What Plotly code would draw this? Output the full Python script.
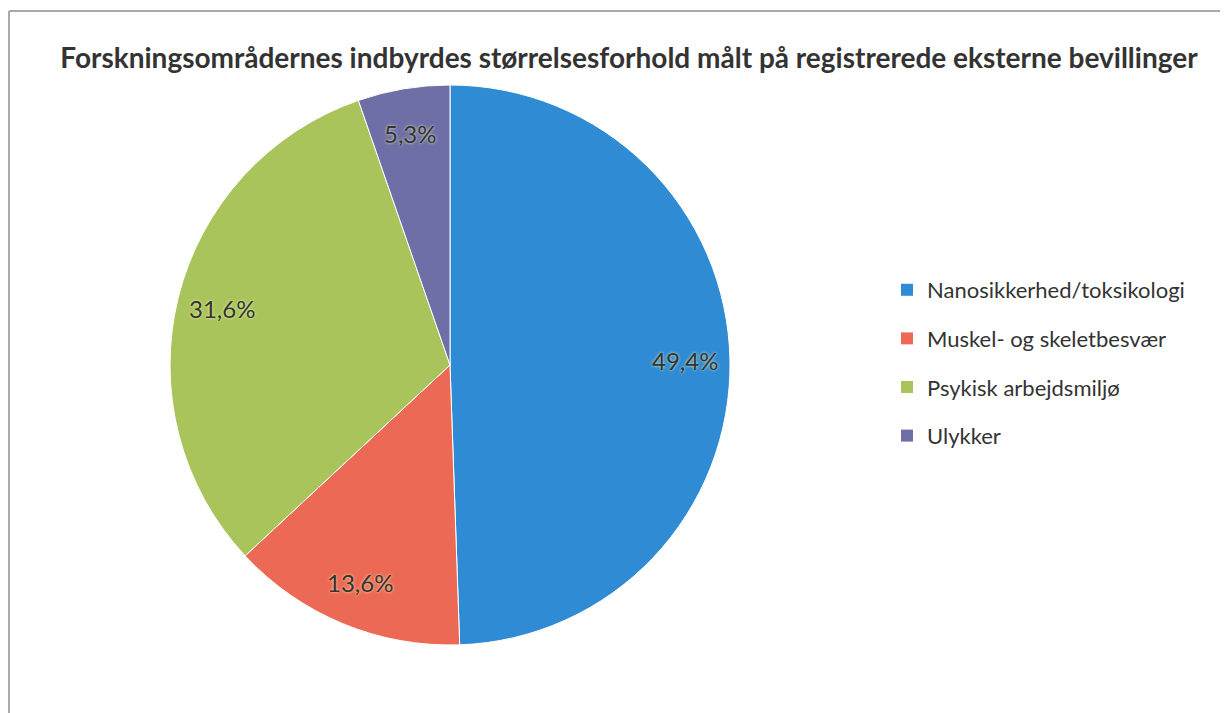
import math
import plotly.graph_objects as go

categories = ["Nanosikkerhed/toksikologi", "Muskel- og skeletbesvær", "Psykisk arbejdsmiljø", "Ulykker"]
values = [49.4, 13.6, 31.6, 5.3]
text_labels = ["49,4%", "13,6%", "31,6%", "5,3%"]
colors = ["#2F8BD3", "#EC6A55", "#A9C45B", "#6D6FA6"]

W, H = 1228, 713
OFF = 8  # page body margin
cx, cy, r = 450 - OFF, 365 - OFF, 280

def px(x):
    return x / W

def py(y):
    return 1 - y / H

fig = go.Figure()
fig.add_trace(go.Pie(
    labels=categories,
    values=values,
    textinfo="none",
    marker=dict(colors=colors, line=dict(color="white", width=1)),
    sort=False,
    direction="clockwise",
    rotation=0,
    domain=dict(x=[px(cx - r), px(cx + r)], y=[py(cy + r), py(cy - r)]),
    hoverinfo="label+percent",
    showlegend=False,
))

# legend entries (one per category, colours from the same lists)
for i, (name, col) in enumerate(zip(categories, colors)):
    fig.add_trace(go.Scatter(
        x=[None], y=[None], mode="markers", name=name,
        marker=dict(symbol="square", size=12, color=col),
        legendgroup=f"g{i}", showlegend=True, hoverinfo="skip",
    ))

# data labels placed along each slice's mid-angle
total = sum(values)
cum = 0.0
annotations = []
for v, t in zip(values, text_labels):
    mid = (cum + v / 2) / total * 2 * math.pi
    cum += v
    rr = r * 0.84
    x = cx + rr * math.sin(mid)
    y = cy - rr * math.cos(mid)
    annotations.append(dict(
        x=px(x), y=py(y), xref="paper", yref="paper", text=t, showarrow=False,
        xanchor="center", yanchor="middle",
        font=dict(size=24, color="#333333", family="Lato",
                  shadow="0px 0px 3px rgba(255,255,190,0.9)"),
    ))

fig.update_layout(
    width=W, height=H,
    margin=dict(l=0, r=0, t=0, b=0),
    paper_bgcolor="white",
    plot_bgcolor="white",
    xaxis=dict(visible=False),
    yaxis=dict(visible=False),
    font=dict(family="Lato", color="#333333"),
    title=dict(
        text="<b>Forskningsområdernes indbyrdes størrelsesforhold målt på registrerede eksterne bevillinger</b>",
        x=px((68 + 1190) / 2 - OFF), xanchor="center",
        y=py(58 - OFF), yanchor="middle",
        font=dict(size=28, color="#333333", family="Lato"),
    ),
    legend=dict(
        x=px(887 - OFF), xanchor="left",
        y=py(269 - OFF), yanchor="top",
        font=dict(size=22, color="#333333", family="Lato"),
        tracegroupgap=17,
        itemwidth=30,
    ),
    annotations=annotations,
    shapes=[
        dict(type="line", xref="paper", yref="paper", x0=px(9 - OFF), x1=1, y0=py(11 - OFF), y1=py(11 - OFF),
             line=dict(color="#AAAAAA", width=2)),
        dict(type="line", xref="paper", yref="paper", x0=px(9 - OFF), x1=px(9 - OFF), y0=0, y1=py(11 - OFF),
             line=dict(color="#AAAAAA", width=2)),
    ],
)

fig.write_html("out.html")
